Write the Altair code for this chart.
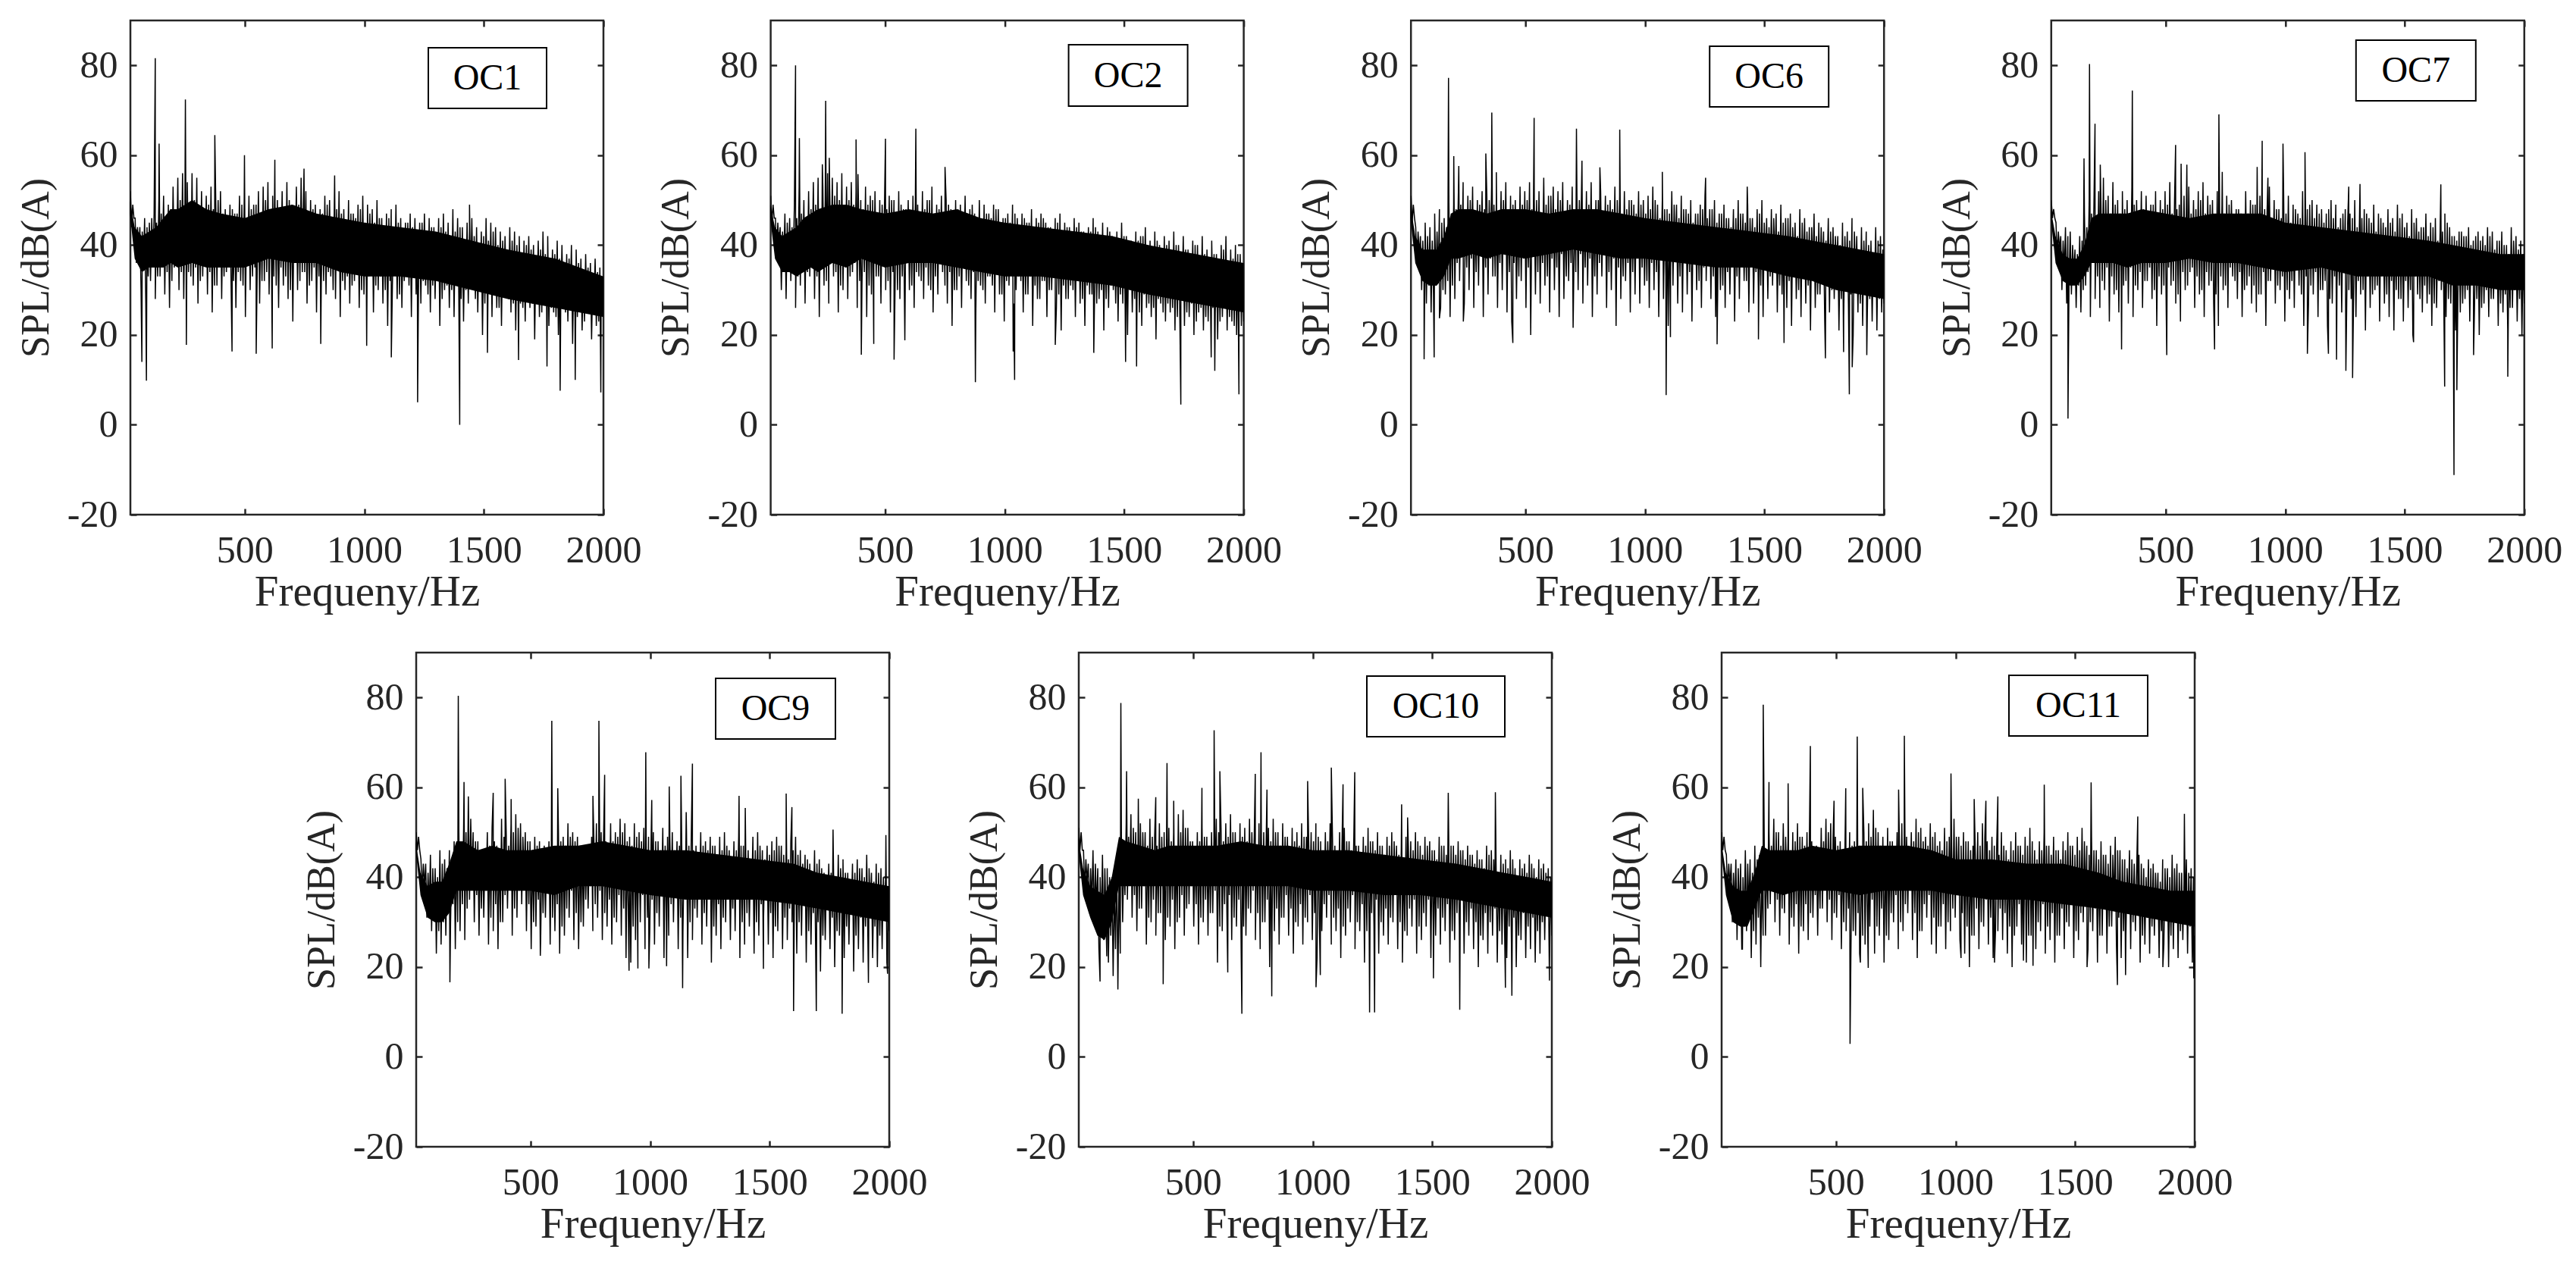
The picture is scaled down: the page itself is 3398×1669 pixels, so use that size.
import altair as alt
import pandas as pd

CORE_F = [20,40,70,100,130,160,190,220,280,340,400,500,600,700,800,900,1000,1150,1300,1450,1600,1700,1800,1900,2000]

# ---- OC1
OC1_HI = [52,46,44,46,45,47,50,51,49,53,55,56,54,56,55,52,51,53,50,52,48,49,47,51,50,51,49,52,53,54,51,50,52,54,49,53,55,52,50,49,48,51,50,49,52,48,50,47,49,51,49,48,50,46,47,48,49,46,45,47,46,45,47,46,44,46,47,45,48,46,44,45,46,44,43,46,45,44,43,42,44,43,42,41,42,40,41,43,42,39,41,40,38,40,39,37,38,36,37,35]
OC1_LO = [44,36,30,27,32,28,33,29,26,35,30,28,34,31,27,33,29,25,31,28,34,30,26,32,24,30,35,27,32,29,33,26,31,28,23,30,34,27,32,25,31,29,33,28,24,30,27,32,26,29,33,25,30,27,22,31,28,26,33,24,29,27,31,25,28,22,30,26,24,29,23,27,31,25,20,28,24,26,22,29,25,21,27,23,26,19,24,28,22,25,20,26,23,18,24,21,25,19,22,24]
OC1_HI2 = [49,44,43,44,46,45,47,46,48,47,50,49,48,50,48,47,49,48,50,47,46,48,47,49,46,48,49,47,50,48,49,47,48,50,47,49,50,47,48,46,47,49,46,48,47,45,47,46,48,45,47,45,46,44,46,44,45,43,45,44,43,45,43,44,42,44,43,41,43,44,41,43,42,40,42,41,43,40,41,39,41,40,38,40,39,37,39,38,36,38,37,35,37,35,36,34,35,33,34,32]
OC1_LO2 = [46,39,35,33,36,33,37,34,32,37,34,36,33,35,32,36,34,31,35,33,36,32,34,31,36,33,35,32,34,36,31,35,33,30,36,32,34,31,35,33,32,34,30,35,32,33,31,34,30,32,35,31,33,30,32,34,29,32,31,33,30,32,29,31,33,28,31,30,32,28,30,31,28,30,27,31,29,26,30,28,27,29,26,28,27,29,25,28,26,24,27,25,28,24,26,23,25,27,23,24]
OC1_CORE_TOP = [50,44,42,43,44,46,48,48,50,48,47,46,48,49,47,46,45,44,43,41,39,38,37,35,33]
OC1_CORE_BOT = [47,37,34,35,35,35,36,35,36,35,35,35,37,36,36,34,33,33,32,30,28,27,26,25,24]
OC1_PEAK_F = [126,142,252,375,499,626,748,876,1440]
OC1_PEAK_V = [81.6,62.6,72.4,64.5,60,59,57,55.5,49]
OC1_DIP_F = [70,89,256,447,548,615,818,1010,1113,1223,1399,1515,1645,1764,1819,1882,1989]
OC1_DIP_V = [14,9.8,17.8,16.3,15.8,17,18,17.6,15,5,0,16,14.4,13,7.6,10,7.2]

# ---- OC2
OC2_HI = [51,46,44,47,46,49,53,50,52,54,55,53,56,55,54,56,53,54,52,50,53,51,52,50,49,51,50,52,48,50,51,49,52,50,53,49,51,50,48,50,49,51,48,47,50,49,47,49,48,46,47,49,46,47,45,48,46,47,45,44,46,47,45,44,46,45,43,44,46,43,45,44,42,43,45,42,41,43,42,44,41,43,40,42,41,43,40,42,39,41,40,42,39,41,38,40,42,39,40,38]
OC2_LO = [45,37,30,28,32,26,31,27,33,28,24,31,27,33,25,30,28,34,26,31,24,29,33,27,30,25,32,28,23,30,26,33,28,31,25,29,34,27,22,30,26,32,28,24,31,27,33,25,29,23,31,27,33,25,29,22,28,32,24,30,26,21,28,31,24,27,22,29,25,28,21,26,30,23,27,20,25,28,22,26,24,19,27,23,25,21,26,22,24,20,25,21,23,26,19,24,21,23,20,22]
OC2_HI2 = [49,45,43,45,44,46,47,46,48,49,48,50,49,51,50,48,50,49,50,48,49,50,47,49,48,50,47,49,48,46,49,47,48,50,47,48,46,49,47,48,46,47,49,46,45,47,46,48,45,46,45,47,44,46,45,43,45,46,44,43,45,43,44,42,44,43,41,43,44,41,42,43,41,40,42,41,39,41,42,40,38,41,39,40,38,40,37,39,38,40,37,38,36,38,37,39,36,37,38,36]
OC2_LO2 = [46,40,36,34,36,33,36,34,37,33,35,32,36,34,31,35,33,36,32,34,31,35,33,36,32,34,30,33,36,31,34,32,35,30,33,36,31,34,30,33,35,31,34,32,30,33,31,34,29,32,34,30,32,29,33,31,28,32,30,33,29,31,28,30,32,28,31,29,27,30,28,31,27,29,26,30,28,25,29,27,26,28,25,27,26,24,28,25,27,23,26,24,27,25,23,26,24,22,25,23]
OC2_CORE_TOP = [49,44,42,43,44,46,47,48,49,49,48,47,48,47,48,46,45,44,43,42,40,39,38,37,36]
OC2_CORE_BOT = [46,37,34,34,33,34,35,34,36,35,37,35,36,36,35,34,33,33,32,31,29,28,27,26,25]
OC2_PEAK_F = [126,142,238,252,267,379,387,502,629,751]
OC2_PEAK_V = [80,63.8,58,72.1,59.4,63.5,55.8,63.7,65.9,57.4]
OC2_DIP_F = [401,453,538,583,878,1036,1042,1212,1373,1506,1552,1737,1864,1879,1980]
OC2_DIP_V = [15.6,18,14.5,18.8,9.5,16.3,10,17.8,16,14,13,4.5,15,12,6.8]

# ---- OC6
OC6_HI = [51,44,42,45,44,47,48,46,50,49,52,54,51,53,50,52,51,53,50,52,54,51,50,53,52,54,50,52,55,51,53,52,54,50,53,51,55,52,54,50,52,51,50,53,51,52,50,49,52,50,51,53,49,50,48,52,49,51,48,50,47,49,51,48,50,47,49,46,48,50,47,49,46,48,50,46,48,47,49,46,47,45,48,46,44,47,45,43,46,44,42,45,43,46,42,44,43,41,44,42]
OC6_LO = [45,36,30,27,25,31,26,29,24,28,32,27,30,26,31,24,29,33,26,30,25,23,28,32,26,20,29,27,31,25,30,24,28,32,26,30,27,31,24,29,33,26,30,22,28,32,25,29,27,31,26,30,24,28,22,31,27,25,29,23,30,26,32,28,24,30,26,29,23,28,32,25,27,30,24,28,31,25,29,26,22,28,24,27,21,26,29,23,25,28,21,24,27,20,25,22,26,23,21,25]
OC6_HI2 = [49,43,41,42,41,43,45,44,47,48,49,48,50,47,49,48,50,49,47,50,48,49,47,49,50,48,50,47,49,51,48,50,47,49,48,50,47,49,48,50,47,49,48,50,47,48,50,47,49,47,48,50,46,48,47,49,46,48,47,45,47,48,46,48,45,47,46,44,46,47,45,46,44,47,45,44,46,43,45,46,44,42,45,43,44,42,44,41,43,42,40,42,41,43,39,41,40,38,41,39]
OC6_LO2 = [46,38,33,31,29,33,30,32,31,36,38,35,37,34,38,35,37,33,36,38,34,36,33,37,35,38,34,36,33,37,35,38,33,36,34,38,35,37,33,36,38,34,37,35,33,36,34,38,35,32,36,34,37,33,35,38,33,36,34,37,32,35,37,33,36,31,34,37,33,35,32,36,34,31,35,33,36,31,34,32,35,30,33,31,34,29,32,34,30,33,28,31,29,32,27,30,28,31,28,27]
OC6_CORE_TOP = [49,42,39,39,39,42,47,48,48,47,48,48,47,48,48,47,46,45,44,43,42,41,40,39,38]
OC6_CORE_BOT = [46,36,32,31,31,33,37,37,38,37,38,37,38,39,38,37,37,36,35,35,33,32,30,29,28]
OC6_PEAK_F = [179,201,222,335,360,379,537,714,737,812,895,1073,1254,1428]
OC6_PEAK_V = [77.2,59.8,57.6,60.4,69.5,56.2,68.3,65.9,58.8,57.3,65.7,56.3,55,53]
OC6_DIP_F = [77,119,141,241,448,700,1089,1107,1302,1475,1582,1755,1831,1855,1867,1928]
OC6_DIP_V = [14.6,15,23.7,23,18.2,21.6,6.6,19.5,17.9,19,18.2,14.8,16.2,6.8,12.8,15.5]

# ---- OC7
OC7_HI = [50,45,42,44,43,39,42,47,50,49,52,55,51,54,50,52,50,53,50,52,51,49,52,50,52,54,50,49,51,53,50,52,54,51,50,52,49,51,50,48,47,52,50,49,51,48,53,50,48,52,51,49,47,52,48,50,49,48,47,50,49,46,48,47,50,46,48,46,49,47,45,48,46,49,47,45,48,46,44,47,45,46,43,47,44,42,43,42,44,41,43,42,44,43,41,43,40,44,42,41]
OC7_LO = [46,37,30,27,29,26,25,31,24,28,26,30,23,29,25,31,27,24,30,26,32,28,22,29,25,31,27,23,30,34,26,29,24,31,27,22,30,26,33,28,24,31,27,25,29,22,32,27,30,23,28,26,31,22,27,29,24,30,22,27,31,25,22,28,24,29,21,26,30,23,27,24,21,28,23,26,20,29,25,27,22,26,30,24,27,21,25,28,23,26,20,27,24,28,22,25,21,26,23,20]
OC7_HI2 = [48,43,41,42,40,38,41,44,47,46,48,50,47,49,47,48,47,49,46,48,47,49,46,48,49,47,48,46,49,47,48,50,47,49,46,48,47,49,46,48,45,47,49,46,48,47,45,48,46,47,45,48,46,47,49,46,47,45,48,46,44,47,45,46,44,46,47,45,43,46,44,45,43,46,44,42,45,43,44,42,44,41,43,45,42,41,43,42,40,42,41,40,42,39,41,40,38,41,39,38]
OC7_LO2 = [46,39,34,32,33,31,30,34,36,33,32,35,33,30,34,32,35,31,34,32,35,30,33,31,35,32,29,34,31,35,33,30,34,32,29,33,31,35,32,34,30,33,31,29,34,32,35,31,33,30,32,35,29,33,31,34,30,32,28,33,31,34,30,28,32,30,33,29,31,34,29,32,30,28,32,30,33,28,31,29,27,32,30,28,31,29,27,30,32,28,26,30,28,31,27,29,26,30,28,27]
OC7_CORE_TOP = [48,42,38,37,37,40,46,47,47,47,48,47,46,47,47,47,45,44,43,42,41,40,39,38,38]
OC7_CORE_BOT = [46,36,32,31,31,33,36,36,36,35,36,36,37,36,36,35,34,35,33,33,33,31,31,30,30]
OC7_PEAK_F = [159,182,205,227,361,542,565,589,723,737,883,904,928,991,1083,1266,1313,1651]
OC7_PEAK_V = [59.3,80.3,67,57.9,74.4,62.3,58.1,57.9,69.1,56.3,57.4,63.2,55,62.6,60.7,53,53.6,53.5]
OC7_DIP_F = [92,316,505,705,1093,1181,1215,1254,1282,1537,1667,1706,1718,1788,1931]
OC7_DIP_V = [1.4,16.8,15.5,16.8,15.8,15.8,14.5,12,10.4,18.4,8.5,-11.2,7.7,15.5,10.7]

# ---- OC9
OC9_HI = [50,44,43,45,42,46,44,46,48,50,51,58,50,48,46,50,51,47,53,49,52,54,52,50,48,49,48,47,48,46,50,49,52,50,49,47,46,49,52,50,48,52,50,53,52,49,52,50,51,49,50,48,51,49,50,48,47,50,49,47,50,48,49,47,49,50,46,48,49,47,46,49,50,46,47,48,49,47,46,48,49,46,45,43,46,44,41,43,42,45,44,41,43,44,42,45,41,43,42,41]
OC9_LO = [46,37,31,28,23,25,27,30,24,28,26,35,30,27,31,25,28,24,30,33,27,31,34,28,24,29,26,31,25,28,23,27,31,26,24,29,33,28,31,26,29,25,30,27,22,21,26,30,24,28,25,29,22,27,30,24,28,22,26,31,25,29,21,27,24,30,26,28,22,25,29,23,27,31,25,22,28,24,26,30,23,27,21,25,22,19,26,24,20,27,22,25,19,24,21,26,22,20,24,21]
OC9_HI2 = [49,43,41,42,40,43,42,44,46,48,50,53,48,46,45,47,48,46,49,47,50,51,49,48,46,47,46,45,47,45,48,47,49,48,47,46,45,47,49,48,46,48,49,50,48,47,49,48,47,46,48,46,47,48,46,47,45,47,46,45,47,46,47,45,46,47,44,46,47,45,44,46,47,44,45,46,47,45,44,46,45,43,44,41,43,42,39,41,40,42,41,39,41,42,40,42,39,41,40,38]
OC9_LO2 = [46,38,33,32,28,30,32,34,30,34,33,39,36,33,37,31,34,30,36,38,33,37,39,34,30,35,32,37,31,34,29,33,37,32,30,35,38,34,37,32,35,31,36,33,30,29,33,36,31,35,32,36,30,34,37,31,35,30,33,37,32,36,29,34,31,36,33,35,30,32,36,30,34,37,32,29,35,31,33,36,30,34,28,32,30,27,33,31,28,34,29,32,27,31,29,33,29,27,31,28]
OC9_CORE_TOP = [48,41,38,39,39,43,48,48,46,47,46,46,47,47,48,47,46,46,45,44,43,41,40,39,38]
OC9_CORE_BOT = [46,36,31,30,30,32,37,37,37,37,37,37,36,38,38,37,36,35,35,35,34,33,32,31,30]
OC9_PEAK_F = [198,222,344,394,419,589,614,761,786,810,982,1007,1080,1129,1151,1177,1372,1398,1569,1593,1765,1986]
OC9_PEAK_V = [80.4,61.2,58.8,61.9,57.4,74.8,59.8,58.1,74.8,62.8,67.8,57.2,60.2,62.6,54.5,65.3,58.1,55.4,58.6,55.6,50.6,49.4]
OC9_DIP_F = [163,541,912,949,995,1069,1136,1474,1600,1695,1803,1913,1993]
OC9_DIP_V = [16.6,22.5,19.2,19.7,19.7,20.2,15.3,19.6,10.2,10.2,9.6,16.5,18.5]

# ---- OC10
OC10_HI = [51,46,43,46,42,45,42,40,44,47,52,54,50,52,50,53,49,52,50,51,50,54,55,51,48,50,51,49,50,53,51,52,54,50,52,51,53,49,52,50,51,53,50,52,49,51,50,52,49,50,52,48,50,52,47,50,51,48,49,47,49,51,48,50,47,49,50,47,46,49,48,50,47,49,48,46,49,47,50,47,48,46,47,45,46,44,47,46,43,45,44,46,42,44,43,45,42,44,43,42]
OC10_LO = [46,37,32,30,24,26,21,18,15,30,35,31,28,33,25,30,27,32,26,29,24,31,27,34,29,25,30,27,32,21,28,31,26,29,23,27,32,26,24,30,20,28,25,31,27,23,29,25,30,26,22,28,31,25,28,22,27,30,24,28,21,26,29,23,27,25,30,24,21,27,29,23,26,29,22,27,25,28,21,26,29,23,27,24,20,26,23,27,21,25,22,24,20,26,22,24,21,23,26,20]
OC10_HI2 = [50,44,42,43,40,42,40,38,41,44,49,51,48,50,47,49,47,49,47,48,47,50,51,48,46,48,49,47,48,50,48,49,50,47,49,48,50,47,49,47,48,50,47,49,46,48,47,49,47,48,49,46,48,49,45,47,48,46,47,45,47,48,46,47,45,47,48,45,44,47,46,48,45,47,46,44,47,45,47,45,46,44,45,43,44,42,45,44,41,43,42,44,40,42,41,43,40,42,41,40]
OC10_LO2 = [46,39,34,33,29,31,27,24,23,36,39,36,33,38,31,35,32,37,31,35,30,36,33,38,34,31,35,32,37,29,34,36,31,35,29,33,37,32,30,35,28,33,31,36,33,30,34,31,36,32,29,34,36,31,33,29,33,36,30,34,28,32,35,30,33,31,36,30,28,33,35,29,32,35,29,33,31,34,28,32,35,30,33,30,27,32,30,33,28,31,29,31,27,32,29,31,28,30,32,27]
OC10_CORE_TOP = [49,42,38,37,36,40,49,48,47,46,47,47,47,48,47,47,46,46,45,44,43,42,41,40,39]
OC10_CORE_BOT = [46,36,31,27,26,30,38,38,38,38,38,38,38,38,38,38,37,37,36,36,35,34,33,32,31]
OC10_PEAK_F = [198,222,271,344,391,419,537,588,612,760,784,809,979,1078,1127,1176,1372,1397,1567,1764]
OC10_PEAK_V = [78.8,63.6,57.5,57.8,65.4,57,59.9,72.7,63.6,63,67.8,59.5,61.4,64.4,60.7,63.4,56.2,53.3,58.8,58.9]
OC10_DIP_F = [111,139,375,645,704,829,1014,1032,1238,1259,1505,1615,1806,1833,1990]
OC10_DIP_V = [16.8,22.4,16.2,18.8,9.6,13.5,15.5,18.2,9.9,9.9,17.5,10.5,15.4,13.6,17]

# ---- OC11
OC11_HI = [50,45,43,44,43,46,44,47,45,46,50,53,50,52,48,50,52,49,50,48,47,51,53,52,49,48,46,50,48,47,50,52,55,50,49,51,48,50,52,49,50,53,51,49,52,50,48,51,49,53,49,50,48,47,50,52,48,49,47,50,46,48,50,47,49,51,46,48,50,47,49,46,48,50,47,49,51,47,49,46,48,45,47,49,46,44,46,43,45,42,44,43,41,44,42,45,43,41,44,42]
OC11_LO = [46,37,30,26,24,28,22,25,20,27,34,30,27,32,25,29,23,28,26,31,27,33,30,26,31,24,28,22,27,21,25,29,23,27,21,26,30,24,28,32,26,22,28,31,25,23,29,24,28,31,26,23,20,27,24,29,25,22,28,26,23,20,29,25,21,27,24,28,23,26,21,27,24,29,22,26,30,24,28,21,27,23,29,25,22,27,24,28,21,25,23,27,22,25,20,24,22,26,23,21]
OC11_HI2 = [49,43,41,42,40,43,41,44,42,44,47,50,47,49,46,48,49,47,48,46,45,48,50,49,47,46,45,47,46,45,48,49,51,47,46,48,46,47,49,47,48,50,48,47,49,47,46,48,47,49,47,48,46,45,47,49,46,47,45,47,44,46,47,45,47,48,44,46,47,45,46,44,46,47,45,46,48,45,46,44,45,43,45,46,44,42,44,41,43,40,42,41,39,42,40,42,41,39,41,40]
OC11_LO2 = [46,38,33,31,29,33,28,31,27,33,38,35,33,37,31,34,29,34,32,36,33,38,35,32,36,30,33,28,32,27,31,35,29,33,27,32,36,30,34,37,32,28,34,36,31,29,34,30,33,36,32,29,27,33,30,35,31,28,33,32,29,27,34,31,27,33,30,34,29,32,27,33,30,34,28,32,35,30,33,27,33,29,34,31,28,33,30,33,27,31,29,32,28,31,27,30,28,32,29,27]
OC11_CORE_TOP = [48,41,38,37,37,41,47,46,46,46,47,46,47,47,47,46,44,44,43,43,41,39,38,37,37]
OC11_CORE_BOT = [46,36,30,29,29,33,37,37,36,37,37,37,36,37,37,37,36,35,35,34,33,32,31,30,29]
OC11_PEAK_F = [196,220,300,393,492,541,589,612,762,786,981,1078,1127,1177,1371,1567,1762,1957]
OC11_PEAK_V = [78.4,61.2,60.9,69.2,57,59.8,71.3,59.9,59.5,71.5,63.1,57.4,57,58,60.6,61.1,53.5,54.1]
OC11_DIP_F = [109,559,599,635,1023,1163,1284,1324,1550,1677,1711,1867,1996]
OC11_DIP_V = [24,2.9,23,19.8,22,21,21.4,20.3,20,16,18.2,20,17.5]

X_TICKS = [500, 1000, 1500, 2000]
Y_TICKS = [-20, 0, 20, 40, 60, 80]
X_TITLE = "Frequeny/Hz"
Y_TITLE = "SPL/dB(A)"

FONT = "Liberation Serif"
INK = "#262626"
TW = 624
TH = 652
TICK = 8


def trace_frame(hi, lo, hi2, lo2, peak_f, peak_v, dip_f, dip_v):
    zig = []
    for a, b, c, d in zip(hi, lo, hi2, lo2):
        zig.extend([a, b, c, d])
    step = (2000 - 22) / (len(zig) - 1)
    rows = [(22 + k * step, v) for k, v in enumerate(zig)]
    rows += list(zip(peak_f, peak_v)) + list(zip(dip_f, dip_v))
    return pd.DataFrame(sorted(rows), columns=["f", "v"])


def x_enc(axis):
    return alt.X("f:Q", scale=alt.Scale(domain=[22, 2000], nice=False, zero=False), axis=axis)


def y_enc(axis):
    return alt.Y("v:Q", scale=alt.Scale(domain=[-20, 90], nice=False, zero=False), axis=axis)


def panel(name, hi, lo, hi2, lo2, ctop, cbot, pf, pv, df_, dv, box):
    trace = trace_frame(hi, lo, hi2, lo2, pf, pv, df_, dv)
    core = pd.DataFrame({"f": CORE_F, "v": ctop, "v0": cbot})
    bottom = alt.Axis(values=X_TICKS, title=X_TITLE, grid=False, domain=False, orient="bottom",
                      offset=-TICK, tickSize=TICK, tickWidth=2.5, tickColor=INK,
                      labelExpr="'' + datum.value", labelFont=FONT, labelFontSize=50, labelColor=INK,
                      labelPadding=22, labelOverlap=False, labelFlush=False, titleFont=FONT, titleFontSize=57,
                      titleFontWeight="normal", titleColor=INK, titlePadding=2)
    left = alt.Axis(values=Y_TICKS, title=Y_TITLE, grid=False, domain=False, orient="left",
                    offset=-TICK, tickSize=TICK, tickWidth=2.5, tickColor=INK,
                    labelExpr="'' + datum.value", labelFont=FONT, labelFontSize=50, labelColor=INK,
                    labelPadding=17, labelOverlap=False, labelFlush=False, titleFont=FONT, titleFontSize=52,
                    titleFontWeight="normal", titleColor=INK, titlePadding=14)
    top = alt.Axis(values=X_TICKS, title=None, grid=False, domain=False, orient="top", labels=False,
                   offset=-TICK, tickSize=TICK, tickWidth=2.5, tickColor=INK)
    right = alt.Axis(values=Y_TICKS, title=None, grid=False, domain=False, orient="right", labels=False,
                     offset=-TICK, tickSize=TICK, tickWidth=2.5, tickColor=INK)

    area = alt.Chart(core).mark_area(color="black").encode(
        x=x_enc(None), y=y_enc(None), y2="v0:Q")
    line = alt.Chart(trace).mark_line(color="black", strokeWidth=1.5, clip=True).encode(
        x=x_enc(bottom), y=y_enc(left))
    mirror = alt.Chart(trace).mark_line(opacity=0).encode(x=x_enc(top), y=y_enc(right))
    label = pd.DataFrame({"name": [name]})
    rect = alt.Chart(label).mark_rect(fill="white", stroke="black", strokeWidth=2).encode(
        x=alt.value(box[0]), x2=alt.value(box[1]), y=alt.value(box[2]), y2=alt.value(box[3]))
    text = alt.Chart(label).mark_text(font=FONT, fontSize=48, color="black", align="center",
                                      baseline="middle").encode(
        x=alt.value((box[0] + box[1]) / 2), y=alt.value((box[2] + box[3]) / 2 + 1), text="name:N")
    return (alt.layer(area, line, mirror, rect, text)
            .resolve_axis(x="independent", y="independent")
            .properties(width=TW, height=TH))


def spacer(w, h):
    return (alt.Chart(pd.DataFrame({"a": [0]})).mark_point(opacity=0, size=0)
            .encode(x=alt.value(0), y=alt.value(0))
            .properties(width=w, height=h, view=alt.ViewBackground(stroke="transparent", strokeWidth=0)))


p1 = panel("OC1", OC1_HI, OC1_LO, OC1_HI2, OC1_LO2, OC1_CORE_TOP, OC1_CORE_BOT, OC1_PEAK_F, OC1_PEAK_V, OC1_DIP_F, OC1_DIP_V, (393, 549, 36, 116))
p2 = panel("OC2", OC2_HI, OC2_LO, OC2_HI2, OC2_LO2, OC2_CORE_TOP, OC2_CORE_BOT, OC2_PEAK_F, OC2_PEAK_V, OC2_DIP_F, OC2_DIP_V, (393, 550, 32, 113))
p3 = panel("OC6", OC6_HI, OC6_LO, OC6_HI2, OC6_LO2, OC6_CORE_TOP, OC6_CORE_BOT, OC6_PEAK_F, OC6_PEAK_V, OC6_DIP_F, OC6_DIP_V, (394, 551, 34, 114))
p4 = panel("OC7", OC7_HI, OC7_LO, OC7_HI2, OC7_LO2, OC7_CORE_TOP, OC7_CORE_BOT, OC7_PEAK_F, OC7_PEAK_V, OC7_DIP_F, OC7_DIP_V, (402, 560, 26, 106))
p5 = panel("OC9", OC9_HI, OC9_LO, OC9_HI2, OC9_LO2, OC9_CORE_TOP, OC9_CORE_BOT, OC9_PEAK_F, OC9_PEAK_V, OC9_DIP_F, OC9_DIP_V, (395, 553, 34, 114))
p6 = panel("OC10", OC10_HI, OC10_LO, OC10_HI2, OC10_LO2, OC10_CORE_TOP, OC10_CORE_BOT, OC10_PEAK_F, OC10_PEAK_V, OC10_DIP_F, OC10_DIP_V, (380, 562, 31, 111))
p7 = panel("OC11", OC11_HI, OC11_LO, OC11_HI2, OC11_LO2, OC11_CORE_TOP, OC11_CORE_BOT, OC11_PEAK_F, OC11_PEAK_V, OC11_DIP_F, OC11_DIP_V, (379, 562, 30, 110))

row1 = alt.hconcat(p1, p2, p3, p4, spacing=220.6, bounds="flush")
row2 = alt.hconcat(spacer(225, 10), p5, spacer(46, 10), p6, spacer(20, 10), p7, spacing=0)

chart = (alt.vconcat(row1, row2, spacing=47)
         .properties(padding={"left": 12, "top": 16, "right": 0, "bottom": 0})
         .configure_view(stroke=INK, strokeWidth=2.5))

chart.save("out.html", embed_options={"renderer": "svg", "actions": False})
